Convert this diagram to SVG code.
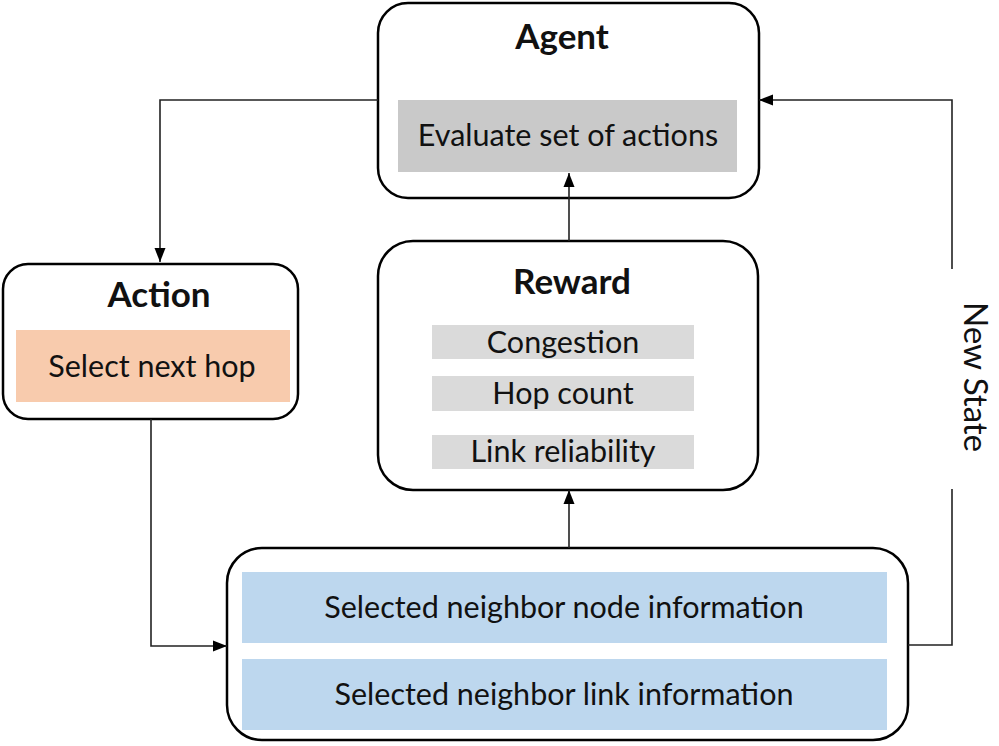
<svg xmlns="http://www.w3.org/2000/svg" width="999" height="746" viewBox="0 0 999 746">
<defs>
<style>
.box{fill:#fff;stroke:#000;stroke-width:2.5}
.t{font-family:Lato,"Liberation Sans",sans-serif;fill:#111;text-anchor:middle}
.title{font-weight:bold;font-size:35px}
.lbl{font-size:30.5px}
.conn{fill:none;stroke:#222;stroke-width:1.6}
</style>
<marker id="ah" markerUnits="userSpaceOnUse" markerWidth="14" markerHeight="14" viewBox="0 0 14 14" refX="14" refY="7" orient="auto">
<path d="M0,1.5 L14,7 L0,12.5 Z" fill="#000"/>
</marker>
</defs>
<rect width="999" height="746" fill="#fff"/>
<g id="agent">
<rect class="box" x="378" y="3" width="381" height="195" rx="30"/>
<rect x="398" y="100" width="339" height="72" fill="#c9c9c9"/>
<text class="t title" x="562" y="49">Agent</text>
<text class="t lbl" x="568" y="146">Evaluate set of actions</text>
</g>
<g id="action">
<rect class="box" x="3" y="264" width="295" height="155" rx="25"/>
<rect x="16" y="330" width="274" height="72" fill="#f8cbad"/>
<text class="t title" x="159" y="307">Action</text>
<text class="t lbl" x="152" y="377">Select next hop</text>
</g>
<g id="reward">
<rect class="box" x="378" y="241" width="380" height="249" rx="35"/>
<rect x="432" y="325" width="262" height="34" fill="#dadada"/>
<rect x="432" y="376" width="262" height="35" fill="#dadada"/>
<rect x="432" y="435" width="262" height="34" fill="#dadada"/>
<text class="t title" x="572" y="294">Reward</text>
<text class="t lbl" x="563" y="353">Congestion</text>
<text class="t lbl" x="563" y="404">Hop count</text>
<text class="t lbl" x="563" y="462">Link reliability</text>
</g>
<g id="state">
<rect class="box" x="227" y="548" width="681" height="192" rx="35"/>
<rect x="242" y="572" width="645" height="71" fill="#bdd7ee"/>
<rect x="242" y="659" width="645" height="71" fill="#bdd7ee"/>
<text class="t lbl" x="564" y="618">Selected neighbor node information</text>
<text class="t lbl" x="564" y="705">Selected neighbor link information</text>
</g>
<g id="connectors">
<path class="conn" d="M378,100 H160 V262" marker-end="url(#ah)"/>
<path class="conn" d="M151,419 V646 H227" marker-end="url(#ah)"/>
<path class="conn" d="M569,548 V490" marker-end="url(#ah)"/>
<path class="conn" d="M569,241 V173" marker-end="url(#ah)"/>
<path class="conn" d="M908,645 H952 V489"/>
<path class="conn" d="M952,269 V100 H759" marker-end="url(#ah)"/>
<text class="t" transform="translate(964,377) rotate(90)" font-size="33">New State</text>
</g>
</svg>
